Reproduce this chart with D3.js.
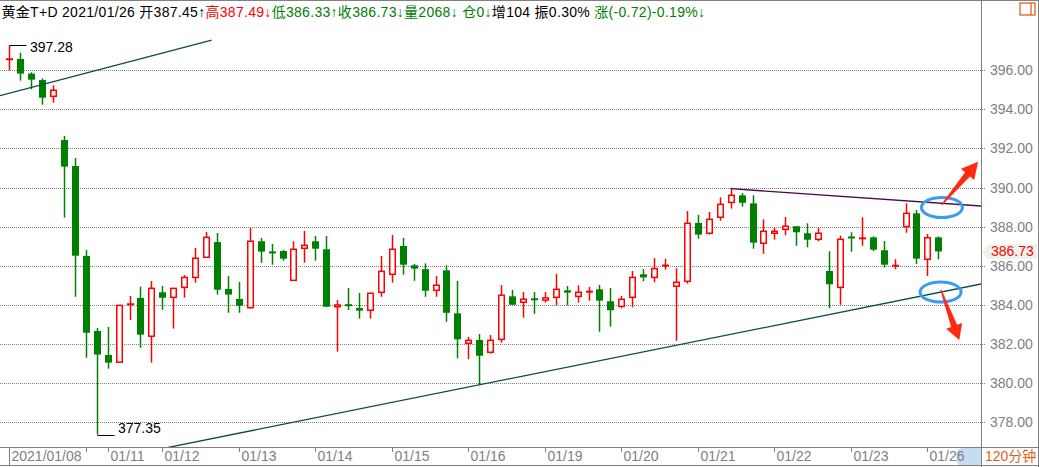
<!DOCTYPE html>
<html>
<head>
<meta charset="utf-8">
<script src="https://cdn.jsdelivr.net/npm/d3@7/dist/d3.min.js"></script>
<style>
html,body{margin:0;padding:0;background:#fff;}
svg{display:block;}
text{font-family:"Liberation Sans",Arial,"Noto Sans CJK SC",sans-serif;}
</style>
</head>
<body>
<svg id="chart" width="1039" height="467"></svg>
<script>
// ---------------- data ----------------
const opens  = [396.55,396.58,395.83,395.50,394.67,392.43,391.10,386.50,382.66,381.43,381.06,384.00,384.35,382.39,384.64,384.38,384.89,385.40,386.43,387.21,384.81,384.30,383.85,387.25,386.70,386.75,385.25,386.89,387.25,386.84,383.90,383.99,383.84,383.72,384.64,385.56,387.01,386.02,385.82,384.74,385.76,383.56,382.03,382.20,381.57,382.23,384.43,384.13,384.30,384.24,384.38,384.74,384.43,384.65,384.79,384.18,383.92,384.38,385.56,385.40,385.97,384.95,385.20,388.19,387.66,388.48,389.24,389.60,389.19,387.15,387.66,387.86,388.02,387.66,387.35,385.73,384.89,387.46,387.38,387.45,386.79,385.98,388.00,388.68,386.33,387.45];
const highs  = [397.28,396.90,395.90,395.59,395.23,392.64,391.51,386.80,382.81,382.86,383.99,384.45,384.93,385.22,384.96,384.84,385.52,386.91,387.72,387.67,385.47,385.17,387.93,387.42,387.11,386.80,387.25,387.78,387.52,387.52,384.24,384.86,384.60,384.59,386.50,387.57,387.42,386.09,386.12,385.47,386.02,385.22,382.35,382.50,382.45,385.01,384.76,384.65,384.65,384.65,385.58,384.96,385.00,384.91,385.01,384.86,384.45,385.73,385.82,386.39,386.35,385.87,388.80,388.60,388.75,389.50,389.94,389.72,389.60,388.37,387.94,388.49,388.02,388.17,387.94,386.74,387.54,387.71,388.48,387.50,387.26,386.33,389.19,388.85,387.62,387.49];
const lows   = [396.00,395.47,395.03,394.24,394.34,388.46,384.41,381.29,377.35,380.73,381.04,383.22,381.80,381.04,383.75,382.78,384.36,385.13,386.43,384.52,383.59,383.59,383.80,386.15,386.05,386.26,385.25,386.15,386.26,383.90,381.60,383.73,383.29,383.29,384.41,385.13,385.54,385.23,384.41,384.41,383.13,381.26,381.21,379.89,381.50,382.06,384.00,383.34,383.54,384.11,383.97,383.97,384.11,384.21,382.62,382.88,383.82,383.87,385.20,385.15,385.80,382.16,385.08,387.38,387.59,388.30,388.92,389.02,386.87,386.61,387.33,387.56,387.02,386.94,387.25,383.82,384.00,386.72,387.02,386.75,385.90,385.82,387.69,386.09,385.47,386.33];
const closes = [396.58,395.83,395.52,394.60,394.98,391.07,386.51,382.57,381.45,381.04,383.97,384.05,382.47,384.84,384.36,384.84,385.40,386.38,387.45,384.77,384.52,383.95,387.25,386.72,386.66,386.36,386.84,387.04,386.87,383.90,383.99,383.97,383.70,384.59,385.71,386.84,386.05,385.85,384.72,385.00,383.59,382.23,382.18,381.39,382.18,384.49,384.00,384.28,384.26,384.35,384.79,384.62,384.64,384.69,384.21,383.72,384.28,385.40,385.40,385.85,386.04,385.15,388.17,387.59,388.37,389.14,389.60,389.22,387.18,387.76,387.76,388.02,387.71,387.33,387.66,385.05,387.35,387.43,387.42,386.82,386.05,386.02,388.68,386.36,387.43,386.73];

const yTickValues  = [378,380,382,384,386,388,390,392,394,396];
const xTickIndex   = [0,7,9,14,21,28,35,42,49,56,63,70,77,84];
const xTickLabels  = ["2021/01/08","","01/11","01/12","01/13","01/14","01/15","01/16","01/19","01/20","01/21","01/22","01/23","01/26"];
const headerTexts  = ["黄金T+D 2021/01/26 开387.45↑","高387.49↓","低386.33↑收386.73↓量2068↓ 仓0↓","增104 振0.30% ","涨(-0.72)-0.19%↓"];
const lastPrice    = 386.73;
const periodLabel  = "120分钟";

// drawn lines / annotations, in (bar index, price)
const trendLower      = [[43, 379.90],[88.8, 385.05]];
const trendUpperLeft  = [[-0.85, 394.70],[18.52, 397.54]];
const trendUpperRight = [[66, 389.94],[88.8, 389.06]];
const ellipseMarks    = [[85.33, 388.98],[85.21, 384.65]];
const arrowMarks      = [[[85.31, 389.11],[88.65, 391.32]],[[85.24, 384.76],[86.92, 382.20]]];

// ---------------- styles ----------------
const UP = "#ff0000", DOWN = "#008000", GRID = "#808080", AXISTXT = "#808080";
const headerColors = ["#000000", "#ff0000", "#008000", "#000000", "#008000"];

const svg = d3.select("#chart");
const W = 1039, H = 467, PR = 981, PB = 447;

const x = d3.scaleLinear().domain([0, 85]).range([9.3, 938.3]);
const y = d3.scaleLinear().domain([378, 396]).range([422, 70.3]);

// clip
const defs = svg.append("defs");
defs.append("clipPath").attr("id","plotClip").append("rect")
  .attr("x",0).attr("y",1).attr("width",PR).attr("height",PB-1);
defs.append("clipPath").attr("id","axisClip").append("rect")
  .attr("x",0).attr("y",PB).attr("width",PR).attr("height",H-PB);

// gridlines + y labels
const gy = svg.append("g");
gy.selectAll("line").data(yTickValues).join("line")
  .attr("x1",0).attr("x2",985)
  .attr("y1",d=>Math.round(y(d))+0.5).attr("y2",d=>Math.round(y(d))+0.5)
  .attr("stroke",GRID).attr("stroke-width",1).attr("stroke-dasharray","1,1");
gy.selectAll("text").data(yTickValues).join("text")
  .attr("x",990).attr("y",d=>y(d)).attr("dy","0.36em")
  .attr("font-size",14).attr("fill",AXISTXT)
  .text(d=>d3.format(".2f")(d));

// frame lines
const frame = svg.append("g").attr("stroke",GRID).attr("stroke-width",1).attr("fill","none");
frame.append("line").attr("x1",0).attr("x2",W).attr("y1",0.5).attr("y2",0.5);
frame.append("line").attr("x1",PR+0.5).attr("x2",PR+0.5).attr("y1",0).attr("y2",H);
frame.append("line").attr("x1",W-0.5).attr("x2",W-0.5).attr("y1",0).attr("y2",H);

// candles
const bars = d3.range(opens.length).map(i=>({i,o:opens[i],h:highs[i],l:lows[i],c:closes[i]}));
const gc = svg.append("g").attr("clip-path","url(#plotClip)");
bars.forEach(b=>{
  const cx = Math.round(x(b.i)) + 0.5;
  const up = b.c >= b.o;
  const col = up ? UP : DOWN;
  const yo = y(b.o), yc = y(b.c), yh = y(b.h), yl = y(b.l);
  const top = Math.min(yo,yc), bot = Math.max(yo,yc);
  const g = gc.append("g");
  if (bot - top < 1.5) {
    g.append("line").attr("x1",cx).attr("x2",cx).attr("y1",yh).attr("y2",yl)
      .attr("stroke",col).attr("stroke-width",1.5);
    g.append("line").attr("x1",cx-3.5).attr("x2",cx+3.5).attr("y1",(top+bot)/2).attr("y2",(top+bot)/2)
      .attr("stroke",col).attr("stroke-width",2);
    return;
  }
  if (up) {
    g.append("line").attr("x1",cx).attr("x2",cx).attr("y1",yh).attr("y2",top)
      .attr("stroke",col).attr("stroke-width",1.5);
    g.append("line").attr("x1",cx).attr("x2",cx).attr("y1",bot).attr("y2",yl)
      .attr("stroke",col).attr("stroke-width",1.5);
    g.append("rect").attr("x",cx-2.75).attr("width",5.5).attr("y",top).attr("height",bot-top)
      .attr("fill","#fff").attr("stroke",col).attr("stroke-width",1.5);
  } else {
    g.append("line").attr("x1",cx).attr("x2",cx).attr("y1",yh).attr("y2",yl)
      .attr("stroke",col).attr("stroke-width",1.5);
    g.append("rect").attr("x",cx-3.5).attr("width",7).attr("y",top).attr("height",bot-top)
      .attr("fill",col);
  }
});

// trend lines
const gl = svg.append("g").attr("clip-path","url(#plotClip)").attr("fill","none").attr("stroke-width",1.3);
function extend(seg, i0, i1){
  const [[a,va],[b,vb]] = seg; const k = (vb-va)/(b-a);
  return [[i0, va + k*(i0-a)],[i1, va + k*(i1-a)]];
}
const lineGen = d3.line().x(d=>x(d[0])).y(d=>y(d[1]));
gl.append("path").attr("d",lineGen(extend(trendLower,-20,100))).attr("stroke","#0b4a4a");
gl.append("path").attr("d",lineGen(trendUpperLeft)).attr("stroke","#0b4a4a");
gl.append("path").attr("d",lineGen(extend(trendUpperRight,66,100))).attr("stroke","#4a0a48");

// high / low markers
const iMax = d3.maxIndex(highs), iMin = d3.minIndex(lows);
const gm = svg.append("g");
[[iMax, highs[iMax], 6],[iMin, lows[iMin], -2.5]].forEach(([i,v,dy])=>{
  const cx = Math.round(x(i)) + 0.5, yy = Math.round(y(v)) + 0.5;
  gm.append("line").attr("x1",cx).attr("x2",cx+17).attr("y1",yy).attr("y2",yy)
    .attr("stroke","#000").attr("stroke-width",1);
  gm.append("text").attr("x",cx+20.5).attr("y",yy+dy).attr("font-size",14).attr("fill","#000")
    .text(d3.format(".2f")(v));
});

// annotations: ellipses + arrows
const ga = svg.append("g");
ellipseMarks.forEach(([i,v])=>{
  ga.append("ellipse").attr("cx",x(i)).attr("cy",y(v)).attr("rx",20.5).attr("ry",10)
    .attr("fill","none").attr("stroke","#3a9cf0").attr("stroke-width",3);
});
function arrowPath(x0,y0,x1,y1,headLen,headHalf,s0,s1){
  const dx=x1-x0, dy=y1-y0, L=Math.hypot(dx,dy);
  const ux=dx/L, uy=dy/L, nx=-uy, ny=ux;
  const bx=x1-ux*headLen, by=y1-uy*headLen;
  const pts=[[x0+nx*s0,y0+ny*s0],[bx+nx*s1,by+ny*s1],[bx+nx*headHalf,by+ny*headHalf],[x1,y1],
             [bx-nx*headHalf,by-ny*headHalf],[bx-nx*s1,by-ny*s1],[x0-nx*s0,y0-ny*s0]];
  return "M"+pts.map(p=>p[0].toFixed(2)+","+p[1].toFixed(2)).join("L")+"Z";
}
arrowMarks.forEach(([[i0,v0],[i1,v1]], k)=>{
  const hl = k===0 ? 16.5 : 15;
  ga.append("path").attr("d",arrowPath(x(i0),y(v0),x(i1),y(v1),hl,8.6,0.6,3.2))
    .attr("fill","#ff2a12");
});

// last price pointer
const yp = y(lastPrice);
svg.append("path")
  .attr("d",`M${PR+1},${yp}L${PR+7},${yp-7.5}L${W-2},${yp-7.5}L${W-2},${yp+7.5}L${PR+7},${yp+7.5}Z`)
  .attr("fill","#edf3ec");
svg.append("text").attr("x",991).attr("y",yp).attr("dy","0.36em").attr("font-size",14)
  .attr("fill","#ff0000").text(d3.format(".2f")(lastPrice));

// bottom date axis
const gx = svg.append("g");
gx.append("rect").attr("clip-path","url(#axisClip)")
  .attr("x",x(84)+29).attr("y",PB+1).attr("width",40).attr("height",H-PB-2).attr("rx",6)
  .attr("fill","#c5dcf3");
gx.append("line").attr("x1",0).attr("x2",W).attr("y1",PB+0.5).attr("y2",PB+0.5).attr("stroke",GRID);
gx.append("line").attr("x1",0).attr("x2",W).attr("y1",H-1.5).attr("y2",H-1.5).attr("stroke",GRID);
xTickIndex.forEach((ti,k)=>{
  const tx = Math.round(x(ti)) + 0.5;
  gx.append("line").attr("x1",tx).attr("x2",tx).attr("y1",PB).attr("y2",k===0 ? H-1 : PB+5)
    .attr("stroke",GRID);
  if (xTickLabels[k]) {
    gx.append("text").attr("x",tx+2).attr("y",461).attr("font-size",14).attr("fill",AXISTXT)
      .text(xTickLabels[k]);
  }
});
svg.append("text").attr("x",985).attr("y",461).attr("font-size",14).attr("fill","#e0601c").text(periodLabel);

// top-right icon
const gi = svg.append("g").attr("fill","none").attr("stroke","#e0601c").attr("stroke-width",1.3);
gi.append("rect").attr("x",1020).attr("y",3).attr("width",15).attr("height",12);
gi.append("line").attr("x1",1031).attr("x2",1031).attr("y1",3).attr("y2",15);

// header
const ht = svg.append("text").attr("x",1.5).attr("y",16.7).attr("font-size",14)
  .attr("textLength",703.5).attr("lengthAdjust","spacing");
headerTexts.forEach((t,k)=>ht.append("tspan").attr("fill",headerColors[k]).text(t));
</script>
</body>
</html>
